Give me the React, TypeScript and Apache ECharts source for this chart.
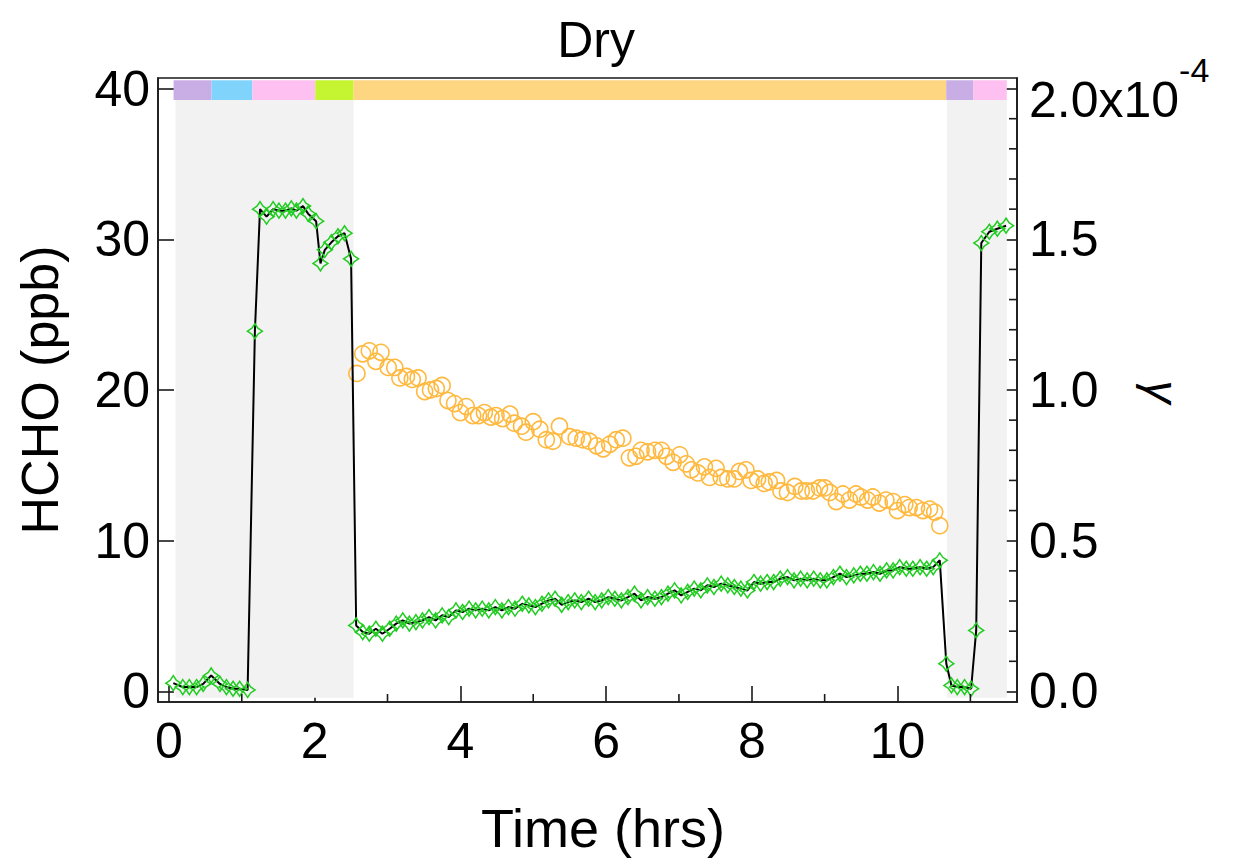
import { useEffect, useRef } from 'react';
import * as echarts from 'echarts';

// ---- axis ranges ----
const X_MIN = -0.15;
const X_MAX = 11.64;
const Y_MIN = -0.7;
const Y_MAX = 40.7;
const G_MIN = -0.035; // gamma axis, units of 1e-4
const G_MAX = 2.035;

const xMajorTicks = [0, 2, 4, 6, 8, 10];
const xMinorTicks = [1, 3, 5, 7, 9, 11];
const yTicks = [0, 10, 20, 30, 40];
const gMajorTicks = [0, 0.5, 1.0, 1.5, 2.0];
const gMinorTicks = [0.1, 0.2, 0.3, 0.4, 0.6, 0.7, 0.8, 0.9, 1.1, 1.2, 1.3, 1.4, 1.6, 1.7, 1.8, 1.9];

// ---- shaded periods (hrs) ----
const shadeStart = [0.09, 10.68];
const shadeEnd = [2.535, 11.5];
const SHADE_LOW = -0.42;
const SHADE_HIGH = 39.24;

// ---- colour bar segments (hrs) ----
const barStart = [0.064, 0.586, 1.145, 2.009, 2.535, 10.668, 11.043];
const barEnd = [0.586, 1.145, 2.009, 2.535, 10.668, 11.043, 11.5];
const barColors = ['#C8AEE5', '#80D4FC', '#FDC0F1', '#C5F530', '#FED580', '#C8AEE5', '#FDC0F1'];
const BAR_LOW = 39.24;
const BAR_HIGH = 40.55;

// ---- HCHO (ppb) vs time (hrs) ----
const hchoTime = [
  0.06, 0.19, 0.28, 0.38, 0.47, 0.58, 0.70, 0.79, 0.88, 0.97, 1.08,
  1.18, 1.25, 1.34, 1.43, 1.51, 1.60, 1.68, 1.75, 1.84, 1.91, 2.02, 2.08, 2.14, 2.23, 2.32, 2.41, 2.50,
  2.57, 2.66, 2.75, 2.84, 2.93, 3.03, 3.12, 3.21, 3.30, 3.39,
  3.48, 3.57, 3.66, 3.75, 3.84, 3.94, 4.03, 4.12, 4.21, 4.30,
  4.39, 4.48, 4.57, 4.66, 4.75, 4.85, 4.94, 5.03, 5.12, 5.21,
  5.30, 5.39, 5.48, 5.57, 5.66, 5.76, 5.85, 5.94, 6.03, 6.12,
  6.21, 6.30, 6.39, 6.48, 6.57, 6.67, 6.76, 6.85, 6.94, 7.03,
  7.12, 7.21, 7.30, 7.39, 7.48, 7.58, 7.67, 7.76, 7.85, 7.94,
  8.03, 8.12, 8.21, 8.30, 8.39, 8.49, 8.58, 8.67, 8.76, 8.85,
  8.94, 9.03, 9.12, 9.21, 9.30, 9.40, 9.49, 9.58, 9.67, 9.76,
  9.85, 9.94, 10.03, 10.12, 10.21, 10.31, 10.40, 10.49, 10.58,
  10.67, 10.74, 10.82, 10.92, 11.01, 11.08, 11.15, 11.26, 11.37, 11.49,
];
const hchoPpb = [
  0.55, 0.29, 0.29, 0.29, 0.50, 1.06, 0.50, 0.29, 0.18, 0.18, 0.10,
  23.9, 32.0, 31.5, 32.0, 31.9, 31.9, 32.05, 31.9, 32.2, 31.7, 31.2, 28.4, 29.3, 29.8, 30.2, 30.4, 28.7,
  4.38, 3.94, 3.83, 4.16, 3.83, 4.16, 4.50, 4.71, 4.50, 4.60,
  4.71, 4.93, 4.71, 5.05, 4.93, 5.38, 5.27, 5.49, 5.38, 5.49,
  5.38, 5.60, 5.38, 5.60, 5.49, 5.82, 5.71, 5.60, 5.82, 6.04,
  6.15, 5.75, 5.93, 6.04, 5.93, 6.15, 5.93, 6.04, 6.26, 6.15,
  6.04, 6.26, 6.49, 6.04, 6.26, 6.15, 6.26, 6.49, 6.71, 6.37,
  6.60, 6.82, 6.71, 7.04, 6.93, 7.15, 7.04, 6.93, 6.82, 6.70,
  7.26, 7.15, 7.26, 7.26, 7.48, 7.59, 7.37, 7.48, 7.37, 7.48,
  7.37, 7.37, 7.59, 7.81, 7.59, 7.70, 7.81, 7.81, 7.92, 7.81,
  8.03, 8.03, 8.25, 8.14, 8.14, 8.25, 8.14, 8.25, 8.70,
  1.84, 0.40, 0.29, 0.29, 0.18, 4.05, 29.75, 30.5, 30.7, 30.9,
];

// ---- gamma (x1e-4) vs time (hrs) ----
const gammaTime = [
  2.58, 2.66, 2.75, 2.84, 2.91, 3.01, 3.10, 3.17, 3.26, 3.34,
  3.42, 3.51, 3.59, 3.67, 3.75, 3.83, 3.92, 4.00, 4.08, 4.17,
  4.25, 4.33, 4.42, 4.49, 4.58, 4.68, 4.74, 4.84, 4.90, 5.00,
  5.09, 5.18, 5.27, 5.36, 5.50, 5.59, 5.68, 5.77, 5.87, 5.96,
  6.05, 6.14, 6.23, 6.32, 6.41, 6.48, 6.57, 6.67, 6.76, 6.83,
  6.92, 7.01, 7.10, 7.17, 7.26, 7.35, 7.42, 7.51, 7.58, 7.67,
  7.76, 7.83, 7.92, 7.99, 8.08, 8.17, 8.24, 8.34, 8.40, 8.49,
  8.59, 8.68, 8.75, 8.84, 8.93, 9.00, 9.07, 9.16, 9.25, 9.34,
  9.43, 9.50, 9.59, 9.66, 9.75, 9.84, 9.94, 10.00, 10.10, 10.16,
  10.26, 10.35, 10.44, 10.51, 10.58,
];
const gammaE4 = [
  1.055, 1.12, 1.13, 1.095, 1.125, 1.075, 1.075, 1.04, 1.045, 1.035,
  1.04, 0.995, 1.0, 1.005, 1.015, 0.965, 0.955, 0.925, 0.945, 0.915,
  0.915, 0.925, 0.91, 0.915, 0.905, 0.92, 0.89, 0.88, 0.86, 0.895,
  0.87, 0.835, 0.83, 0.88, 0.845, 0.84, 0.835, 0.83, 0.815, 0.805,
  0.82, 0.835, 0.84, 0.775, 0.78, 0.80, 0.795, 0.80, 0.80, 0.78,
  0.76, 0.785, 0.755, 0.735, 0.725, 0.745, 0.71, 0.74, 0.71, 0.705,
  0.705, 0.73, 0.735, 0.70, 0.705, 0.69, 0.695, 0.70, 0.665, 0.66,
  0.68, 0.665, 0.665, 0.665, 0.675, 0.675, 0.66, 0.63, 0.655, 0.635,
  0.655, 0.645, 0.635, 0.645, 0.625, 0.635, 0.63, 0.60, 0.62, 0.61,
  0.61, 0.60, 0.605, 0.595, 0.55,
];

const FONT = '"Liberation Sans", Arial, Helvetica, sans-serif';
const INK = '#1a1a1a';
const GREEN = '#22cc22';
const ORANGE = '#FFB93F';
const SHADE = '#F2F2F2';

const DIAMOND = 'path://M10,0 L14,6 L20,10 L14,14 L10,20 L6,14 L0,10 L6,6 Z';

export default function App() {
  const ref = useRef<HTMLDivElement>(null);

  useEffect(() => {
    document.body.style.margin = '0';
    const chart = echarts.init(ref.current!, null, { renderer: 'svg' });

    const hchoData = hchoTime.map((t, i) => [t, hchoPpb[i]]);
    const gammaData = gammaTime.map((t, i) => [t, gammaE4[i]]);

    const shadeAreas = shadeStart.map((s, i) => [
      { xAxis: s, yAxis: SHADE_LOW, itemStyle: { color: SHADE } },
      { xAxis: shadeEnd[i], yAxis: SHADE_HIGH },
    ]);
    const barAreas = barStart.map((s, i) => [
      { xAxis: s, yAxis: BAR_LOW, itemStyle: { color: barColors[i] } },
      { xAxis: barEnd[i], yAxis: BAR_HIGH },
    ]);

    const tickStyle = { color: INK, width: 1.6 };
    const labelStyle = { color: '#000', fontSize: 50, fontFamily: FONT };

    chart.setOption({
      animation: false,
      backgroundColor: '#fff',
      grid: {
        left: 158, right: 217, top: 78, bottom: 161,
        containLabel: false, outerBoundsMode: 'none',
        show: true, borderColor: INK, borderWidth: 1.6, backgroundColor: 'transparent',
      },
      graphic: [
        {
          type: 'text', x: 596, y: 40,
          style: { text: 'Dry', fill: '#000', font: `50px ${FONT}`, textAlign: 'center', textVerticalAlign: 'middle' },
        },
        {
          type: 'text', x: 603, y: 828,
          style: { text: 'Time (hrs)', fill: '#000', font: `54px ${FONT}`, textAlign: 'center', textVerticalAlign: 'middle' },
        },
        {
          type: 'text', x: 1162, y: 392, rotation: -Math.PI / 2,
          style: { text: 'γ', fill: '#000', font: `italic 46px ${FONT}`, textAlign: 'center', textVerticalAlign: 'middle' },
        },
      ],
      xAxis: [
        {
          type: 'value', min: X_MIN, max: X_MAX, position: 'bottom',
          axisLine: { show: true, onZero: false, lineStyle: tickStyle },
          axisTick: { show: true, inside: true, length: 16, customValues: xMajorTicks, lineStyle: tickStyle },
          axisLabel: { ...labelStyle, margin: 14, customValues: xMajorTicks, formatter: (v: number) => String(v) },
          splitLine: { show: false },
        },
      ],
      yAxis: [
        {
          type: 'value', min: Y_MIN, max: Y_MAX, position: 'left',
          name: 'HCHO (ppb)', nameLocation: 'middle', nameGap: 92, nameRotate: 90,
          nameTextStyle: { color: '#000', fontSize: 52, fontFamily: FONT },
          axisLine: { show: true, onZero: false, lineStyle: tickStyle },
          axisTick: { show: true, inside: true, length: 16, customValues: yTicks, lineStyle: tickStyle },
          axisLabel: { ...labelStyle, margin: 8, customValues: yTicks, formatter: (v: number) => String(v) },
          splitLine: { show: false },
        },
        {
          type: 'value', min: G_MIN, max: G_MAX, position: 'right',
          axisLine: { show: true, onZero: false, lineStyle: tickStyle },
          axisTick: { show: true, inside: true, length: 16, customValues: gMajorTicks, lineStyle: tickStyle },
          axisLabel: {
            ...labelStyle, margin: 12, customValues: gMajorTicks,
            formatter: (v: number) => (Math.abs(v - 2) < 1e-9 ? '{a|2.0x10}{s|-4}' : v.toFixed(1)),
            rich: {
              a: { fontSize: 50, fontFamily: FONT, color: '#000', verticalAlign: 'bottom' },
              s: { fontSize: 34, fontFamily: FONT, color: '#000', verticalAlign: 'top', padding: [0, 0, 38, 0] },
            },
          },
          splitLine: { show: false },
        },
      ],
      series: [
        {
          type: 'line', data: [], xAxisIndex: 0, yAxisIndex: 0, silent: true, z: 0,
          markArea: { silent: true, data: shadeAreas },
        },
        {
          type: 'line', data: [], xAxisIndex: 0, yAxisIndex: 0, silent: true, z: 1,
          markArea: { silent: true, data: barAreas },
        },
        {
          // minor ticks on time axis
          type: 'custom', xAxisIndex: 0, yAxisIndex: 0, silent: true, z: 5,
          data: xMinorTicks,
          renderItem: (_p: any, api: any) => {
            const pt = api.coord([api.value(0), Y_MIN]);
            return {
              type: 'line',
              shape: { x1: pt[0], y1: pt[1], x2: pt[0], y2: pt[1] - 8 },
              style: { stroke: INK, lineWidth: 1.6 },
            };
          },
        },
        {
          // minor ticks on gamma axis
          type: 'custom', xAxisIndex: 0, yAxisIndex: 1, silent: true, z: 5,
          data: gMinorTicks,
          renderItem: (_p: any, api: any) => {
            const pt = api.coord([X_MAX, api.value(0)]);
            return {
              type: 'line',
              shape: { x1: pt[0], y1: pt[1], x2: pt[0] - 8, y2: pt[1] },
              style: { stroke: INK, lineWidth: 1.6 },
            };
          },
        },
        {
          name: 'gamma', type: 'scatter', xAxisIndex: 0, yAxisIndex: 1, z: 3,
          data: gammaData, symbol: 'circle', symbolSize: 16,
          itemStyle: { color: 'rgba(0,0,0,0)', borderColor: ORANGE, borderWidth: 1.6, opacity: 1 },
        },
        {
          name: 'HCHO', type: 'line', xAxisIndex: 0, yAxisIndex: 0, z: 4,
          data: hchoData, symbol: DIAMOND, symbolSize: 15, showAllSymbol: true,
          lineStyle: { color: '#000', width: 2 },
          itemStyle: { color: 'rgba(0,0,0,0)', borderColor: GREEN, borderWidth: 1.5 },
        },
      ],
    });

    return () => chart.dispose();
  }, []);

  return <div ref={ref} style={{ width: 1234, height: 863, position: 'absolute', left: 0, top: 0 }} />;
}
